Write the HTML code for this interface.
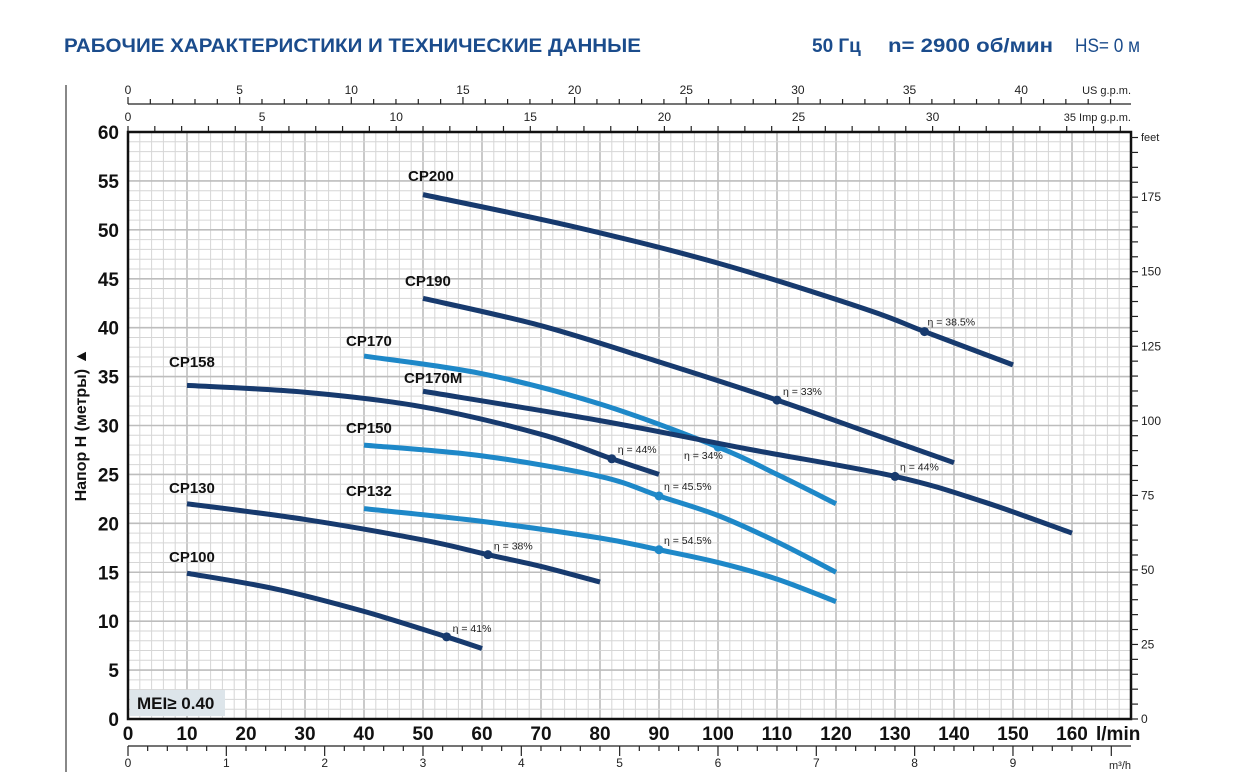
<!DOCTYPE html>
<html><head><meta charset="utf-8"><style>
html,body{margin:0;padding:0;background:#fff;}
svg{display:block;font-family:"Liberation Sans",sans-serif;}
</style></head><body>
<svg id="s" width="1234" height="779" viewBox="0 0 1234 779" xmlns="http://www.w3.org/2000/svg">
<text x="64" y="52" font-size="19" font-weight="bold" fill="#1b4c8c" textLength="577" lengthAdjust="spacingAndGlyphs">РАБОЧИЕ ХАРАКТЕРИСТИКИ И ТЕХНИЧЕСКИЕ ДАННЫЕ</text>
<text x="812" y="52" font-size="19" font-weight="bold" fill="#1b4c8c">50 Гц</text>
<text x="888" y="52" font-size="19" font-weight="bold" fill="#1b4c8c" textLength="165" lengthAdjust="spacingAndGlyphs">n= 2900 об/мин</text>
<text x="1075" y="52" font-size="19" fill="#1b4c8c" textLength="65" lengthAdjust="spacingAndGlyphs">HS= 0 м</text>
<line x1="66" y1="85" x2="66" y2="772" stroke="#888" stroke-width="2"/>
<g id="g"></g>
</svg>
<script>
var s=document.getElementById('g'),h='';
function X(q){return 128+5.9*q;}function Y(m){return 719-9.783*m;}
var L=128,R=1131,T=132,B=719;
h+='<rect x="'+L+'" y="'+T+'" width="'+(R-L)+'" height="'+(B-T)+'" fill="#fff"/>';
for(var q=2;q<170;q+=2){var x=X(q);h+='<line x1="'+x+'" y1="'+T+'" x2="'+x+'" y2="'+B+'" stroke="'+(q%10==0?'#bdbdbd':'#d6d6d6')+'" stroke-width="'+(q%10==0?1.6:1)+'"/>';}
for(var m=1;m<60;m++){var y=Y(m);h+='<line x1="'+L+'" y1="'+y+'" x2="'+R+'" y2="'+y+'" stroke="'+(m%5==0?'#bdbdbd':'#d6d6d6')+'" stroke-width="'+(m%5==0?1.6:1)+'"/>';}
h+='<rect x="'+L+'" y="'+T+'" width="'+(R-L)+'" height="'+(B-T)+'" fill="none" stroke="#111" stroke-width="2.5"/>';
for(var m=0;m<=60;m+=5)h+='<text x="119" y="'+(Y(m)+7)+'" font-size="19" font-weight="bold" text-anchor="end" fill="#111">'+m+'</text>';
for(var q=0;q<=160;q+=10)h+='<text x="'+X(q)+'" y="740" font-size="19" font-weight="bold" text-anchor="middle" fill="#111">'+q+'</text>';
h+='<text x="1096" y="740" font-size="19" font-weight="bold" fill="#111">l/min</text>';
h+='<line x1="128" y1="746" x2="1131" y2="746" stroke="#222" stroke-width="1.2"/>';
for(var i=0;i*0.2<=10.2;i++){var x=128+98.33*i*0.2;if(x>1131)break;h+='<line x1="'+x+'" y1="746" x2="'+x+'" y2="'+(i%5==0?756:751)+'" stroke="#222" stroke-width="1.2"/>';if(i%5==0&&i/5<=9)h+='<text x="'+x+'" y="767" font-size="12" text-anchor="middle" fill="#222">'+(i/5)+'</text>';}
h+='<text x="1131" y="769" font-size="11" text-anchor="end" fill="#222">m³/h</text>';
h+='<line x1="128" y1="104" x2="1131" y2="104" stroke="#222" stroke-width="1.2"/>';
for(var g=0;g<=44;g++){var x=128+22.33*g;if(x>1131)break;h+='<line x1="'+x+'" y1="104" x2="'+x+'" y2="'+(g%5==0?97:99)+'" stroke="#222" stroke-width="1.2"/>';if(g%5==0)h+='<text x="'+x+'" y="94" font-size="12" text-anchor="middle" fill="#222">'+g+'</text>';}
h+='<text x="1131" y="94" font-size="11" text-anchor="end" fill="#222">US g.p.m.</text>';
for(var g=0;g<=37;g++){var x=128+26.82*g;if(x>1131)break;h+='<line x1="'+x+'" y1="131" x2="'+x+'" y2="126" stroke="#222" stroke-width="1.2"/>';if(g%5==0&&g<35)h+='<text x="'+x+'" y="121" font-size="12" text-anchor="middle" fill="#222">'+g+'</text>';}
h+='<text x="1131" y="121" font-size="11" text-anchor="end" fill="#222">35 Imp g.p.m.</text>';
for(var f=0;f<=195;f+=5){var y=719-2.982*f;if(y<T)break;h+='<line x1="1131" y1="'+y+'" x2="1138" y2="'+y+'" stroke="#222" stroke-width="1.2"/>';if(f%25==0)h+='<text x="1141" y="'+(y+4)+'" font-size="12" fill="#222">'+f+'</text>';}
h+='<text x="1141" y="141" font-size="11" fill="#222">feet</text>';
h+='<text transform="translate(86,425) rotate(-90)" font-size="16" font-weight="bold" text-anchor="middle" fill="#111">Напор H (метры) ▲</text>';
h+='<rect x="130" y="690" width="95" height="26" fill="#dde5ea"/><text x="137" y="709" font-size="17" font-weight="bold" fill="#111">MEI≥ 0.40</text>';
var D='#173a6e',Lb='#1e88c8';
var C=[
['CP200',D,[[50,53.6],[75,50.4],[100,46.6],[125,41.9],[135,39.6],[150,36.2]],[135,39.6,'η = 38.5%',3,-6],[408,181]],
['CP190',D,[[50,43],[70,40.2],[90,36.5],[110,32.6],[125,29.4],[140,26.2]],[110,32.6,'η = 33%',6,-5],[405,286]],
['CP170',Lb,[[40,37.1],[60,35.3],[80,32.2],[100,27.8],[110,25],[120,22]],[100,27.8,'η = 34%',-34,12],[346,346]],
['CP170M',D,[[50,33.5],[80,30.5],[105,27.6],[130,24.8],[145,22.2],[160,19]],[130,24.8,'η = 44%',5,-6],[404,383]],
['CP158',D,[[10,34.1],[30,33.4],[50,31.9],[70,29.1],[82,26.6],[90,25]],[82,26.6,'η = 44%',6,-6],[169,367]],
['CP150',Lb,[[40,28],[60,26.9],[80,24.8],[90,22.8],[100,20.8],[110,18.1],[120,15]],[90,22.8,'η = 45.5%',5,-6],[346,433]],
['CP132',Lb,[[40,21.5],[60,20.2],[80,18.5],[90,17.3],[100,16],[110,14.3],[120,12]],[90,17.3,'η = 54.5%',5,-6],[346,496]],
['CP130',D,[[10,22],[30,20.4],[50,18.3],[61,16.8],[70,15.6],[80,14]],[61,16.8,'η = 38%',6,-5],[169,493]],
['CP100',D,[[10,14.9],[25,13.3],[40,11],[54,8.4],[60,7.2]],[54,8.4,'η = 41%',6,-5],[169,562]]];
C.forEach(function(c){var p=c[2].map(function(a){return [X(a[0]),Y(a[1])];});var d='M'+p[0];
for(var i=0;i<p.length-1;i++){var p0=p[i-1]||p[i],p1=p[i],p2=p[i+1],p3=p[i+2]||p2;
d+=' C'+(p1[0]+(p2[0]-p0[0])/6)+','+(p1[1]+(p2[1]-p0[1])/6)+' '+(p2[0]-(p3[0]-p1[0])/6)+','+(p2[1]-(p3[1]-p1[1])/6)+' '+p2;}
h+='<path d="'+d+'" fill="none" stroke="'+c[1]+'" stroke-width="5"/>';
var e=c[3];h+='<circle cx="'+X(e[0])+'" cy="'+Y(e[1])+'" r="4.5" fill="'+c[1]+'"/>';
h+='<text x="'+(X(e[0])+e[3])+'" y="'+(Y(e[1])+e[4])+'" font-size="10.5" fill="#222">'+e[2]+'</text>';
h+='<text x="'+c[4][0]+'" y="'+c[4][1]+'" font-size="15" font-weight="bold" fill="#111">'+c[0]+'</text>';});
s.innerHTML=h;
</script>
</body></html>
